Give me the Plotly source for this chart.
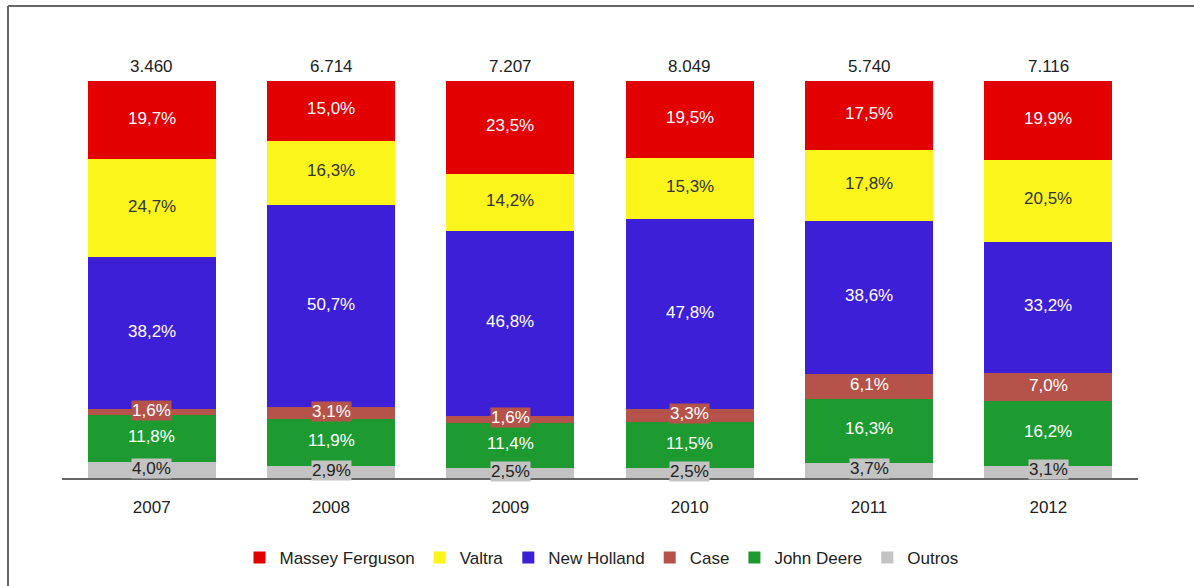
import plotly.graph_objects as go

W, H = 1194, 586

years = ["2007", "2008", "2009", "2010", "2011", "2012"]
totals = ["3.460", "6.714", "7.207", "8.049", "5.740", "7.116"]

# stacked bottom -> top
brands = ["Outros", "John Deere", "Case", "New Holland", "Valtra", "Massey Ferguson"]
outros = [4.0, 2.9, 2.5, 2.5, 3.7, 3.1]
john_deere = [11.8, 11.9, 11.4, 11.5, 16.3, 16.2]
case = [1.6, 3.1, 1.6, 3.3, 6.1, 7.0]
new_holland = [38.2, 50.7, 46.8, 47.8, 38.6, 33.2]
valtra = [24.7, 16.3, 14.2, 15.3, 17.8, 20.5]
massey = [19.7, 15.0, 23.5, 19.5, 17.5, 19.9]

series = [outros, john_deere, case, new_holland, valtra, massey]
colors = ["#c3c3c3", "#1e9b30", "#b5534b", "#3e1fd8", "#fcf51c", "#e30000"]
text_colors = ["#222222", "#ffffff", "#ffffff", "#ffffff", "#333333", "#ffffff"]
label_bg = ["#c3c3c3", None, "#b5534b", None, None, None]

FONT = "Arial, Liberation Sans, sans-serif"
FS = 17

fig = go.Figure()
for name, vals, col in zip(brands, series, colors):
    fig.add_trace(go.Bar(
        x=years, y=vals, name=name, marker=dict(color=col, line=dict(width=0)),
        hoverinfo="skip",
    ))

# labels centred in segments (normalised to 100%)
sums = [sum(s[i] for s in series) for i in range(len(years))]
annotations = []
for si, vals in enumerate(series):
    for i, yr in enumerate(years):
        below = sum(series[k][i] for k in range(si)) / sums[i] * 100
        mid = below + vals[i] / sums[i] * 100 / 2
        a = dict(x=i, y=mid, xref="x", yref="y",
                 text=f"{vals[i]:.1f}%".replace(".", ","),
                 showarrow=False, yshift=2,
                 font=dict(family=FONT, size=FS, color=text_colors[si]))
        if label_bg[si]:
            a["bgcolor"] = label_bg[si]
            a["borderpad"] = 0
        annotations.append(a)

for i, t in enumerate(totals):
    annotations.append(dict(x=i, y=100, xref="x", yref="y", text=t,
                            showarrow=False, yanchor="bottom", yshift=3,
                            font=dict(family=FONT, size=FS, color="#222222")))

fig.update_layout(
    width=W, height=H,
    margin=dict(l=0, r=0, t=0, b=0),
    paper_bgcolor="white", plot_bgcolor="white",
    barmode="stack", barnorm="percent", bargap=0.285,
    font=dict(family=FONT, size=FS, color="#222222"),
    xaxis=dict(type="category", domain=[62 / W, 1138 / W], showline=True,
               linecolor="#666666", linewidth=2, ticks="outside", ticklen=13,
               tickcolor="rgba(0,0,0,0)", showgrid=False,
               tickfont=dict(family=FONT, size=FS, color="#222222")),
    yaxis=dict(domain=[1 - 478 / H, 1 - 81 / H], range=[0, 100], visible=False,
               showgrid=False),
    legend=dict(orientation="h", x=601.5 / W, xanchor="center", y=1 - 558 / H,
                yanchor="middle", traceorder="reversed",
                font=dict(family=FONT, size=FS, color="#222222"),
                itemwidth=30),
    annotations=annotations,
    showlegend=True,
    shapes=[
        dict(type="line", xref="paper", yref="paper", x0=8 / W, x1=1,
             y0=1 - 6 / H, y1=1 - 6 / H, line=dict(color="#666666", width=2)),
        dict(type="line", xref="paper", yref="paper", x0=8 / W, x1=8 / W,
             y0=0, y1=1 - 6 / H, line=dict(color="#666666", width=2)),
    ],
)

fig.write_html("out.html", config={"displayModeBar": False},
               post_script="document.body.style.margin='0';")
